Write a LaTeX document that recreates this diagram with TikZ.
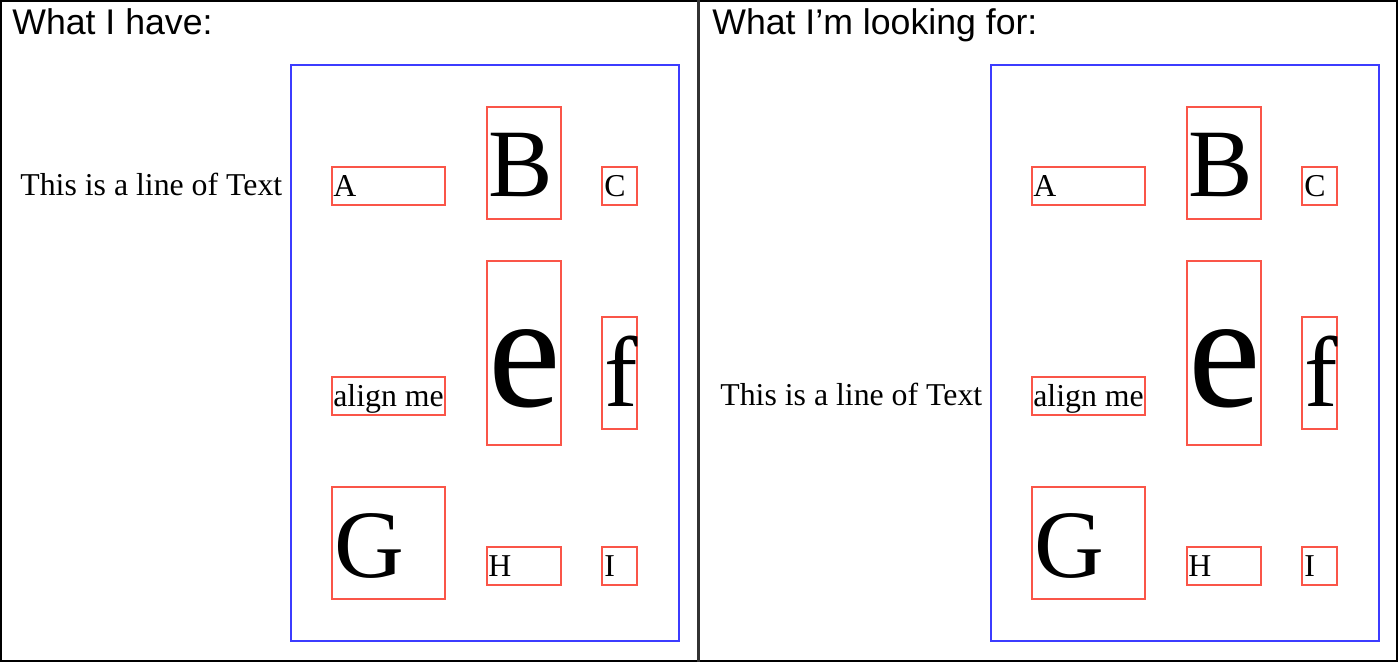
\documentclass[tikz,border=0pt]{standalone}
\usepackage{fontspec}
\setmainfont{Liberation Serif}
\newfontfamily\titlefont{Liberation Sans}
\usepackage{xcolor}
\definecolor{cellred}{RGB}{250, 85, 72}
\definecolor{gridblue}{RGB}{60, 60, 255}
\definecolor{divgray}{RGB}{50, 50, 50}

\begin{document}
\begin{tikzpicture}[x=0.02cm, y=-0.02cm,
    cell/.style={draw=cellred, line width=1.1pt},
    grid/.style={draw=gridblue, line width=1.1pt},
    glyph/.style={anchor=base west, inner sep=0pt},
    small/.style={glyph, font=\fontsize{18.1}{20}\selectfont},
    big/.style={glyph, font=\fontsize{55}{60}\selectfont},
    title/.style={anchor=base west, inner sep=0pt, font=\titlefont\fontsize{20.3}{22}\selectfont}]
    \useasboundingbox (0,0) rectangle (1398,662);
    % Frame
    \draw[line width=1.2pt] (1,1) rectangle (1397,661);
    \draw[divgray, line width=1.2pt] (698.5,0) -- (698.5,662);

    % Titles
    \node[title] (haveT) at (12,35) {What I have:};
    \node[title] (wantT) at (712,35) {What I’m looking for:};

    % Loose text line
    \node[small] (lineL) at (20,195) {This is a line of Text};
    \node[small] (lineR) at (720,405) {This is a line of Text};

    % Grids
    \foreach \dx/\p in {0/L, 700/R} {
      \begin{scope}[shift={(\dx,0)}]
        \draw[grid] (291,65) rectangle (679,641);
        % row 1
        \draw[cell] (332,167) rectangle (445,205);
        \draw[cell] (487,107) rectangle (561,219);
        \draw[cell] (602,167) rectangle (637,205);
        \node[small] (a\p) at (333,196) {A};
        \node[big] (b\p) at (488,196) {B};
        \node[small] (c\p) at (604,196) {C};
        % row 2
        \draw[cell] (332,377) rectangle (445,415);
        \draw[cell] (487,261) rectangle (561,445);
        \draw[cell] (602,317) rectangle (637,429);
        \node[small] (d\p) at (333,406) {align me};
        \node[glyph, font=\fontsize{93}{100}\selectfont] (e\p) at (488,406) {e};
        \node[glyph, font=\fontsize{57}{62}\selectfont] (f\p) at (604,406) {f};
        % row 3
        \draw[cell] (332,487) rectangle (445,599);
        \draw[cell] (487,547) rectangle (561,585);
        \draw[cell] (602,547) rectangle (637,585);
        \node[big] (g\p) at (334,577) {G};
        \node[small] (h\p) at (488,576) {H};
        \node[small] (i\p) at (604,576) {I};
      \end{scope}
    }
\end{tikzpicture}
\end{document}
